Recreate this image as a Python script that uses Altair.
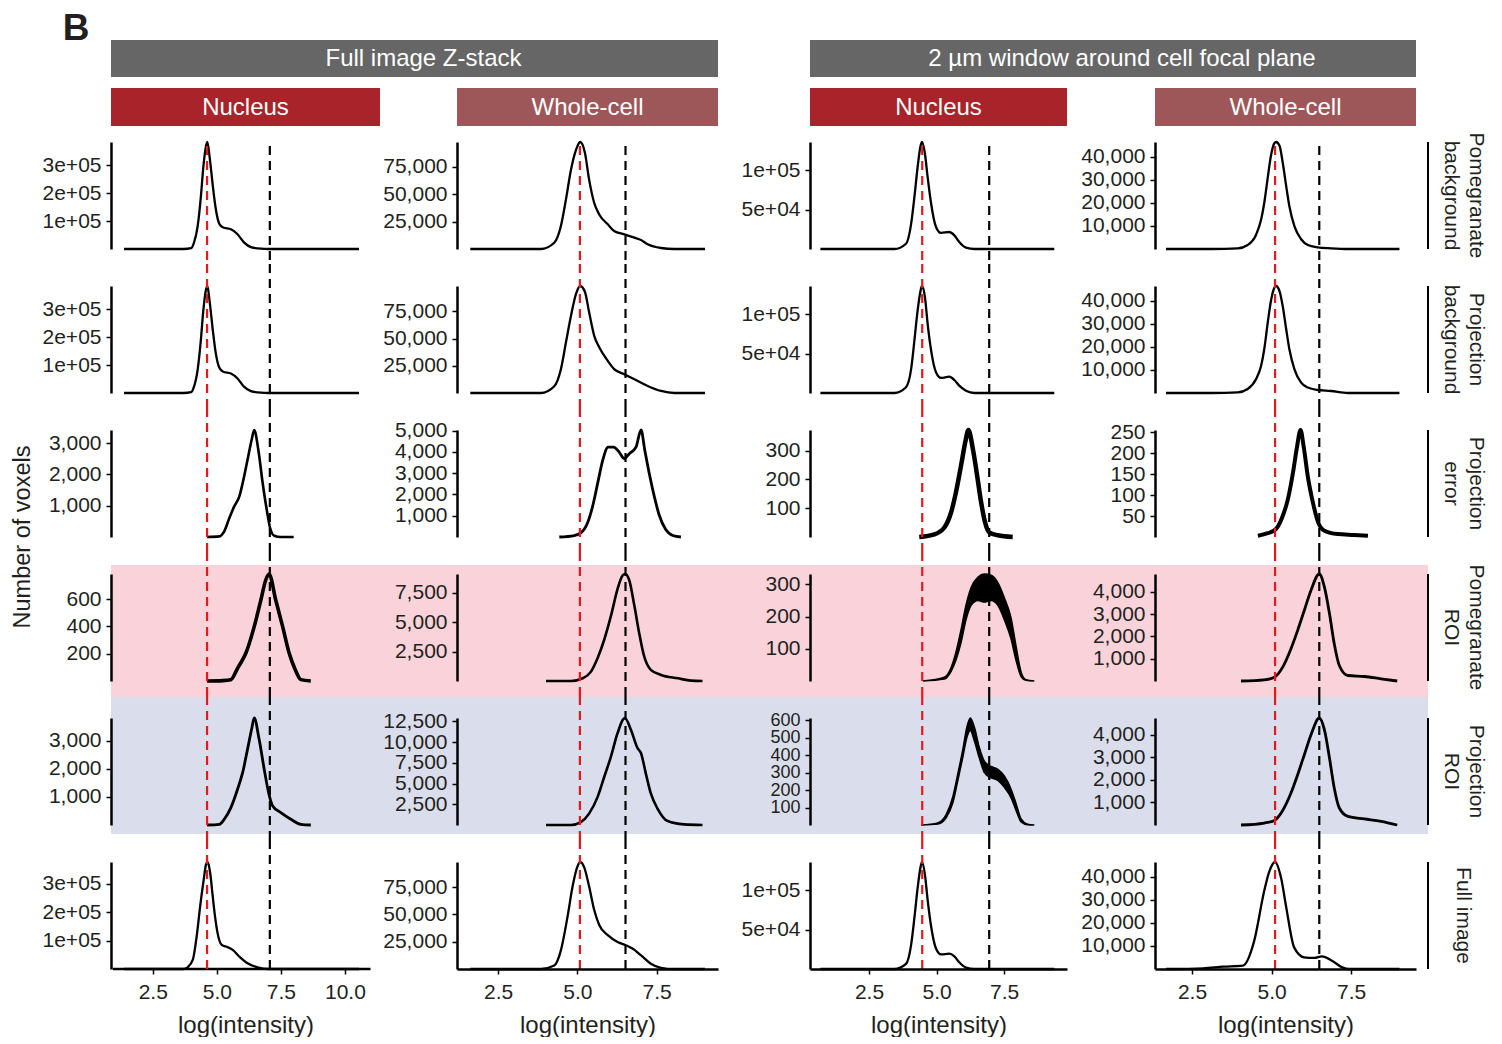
import altair as alt
import pandas as pd

FONT = "Liberation Sans"
INK = "#231F20"
RED = "#E31A1C"

# ---------------- text ----------------
panel_letter = "B"
group_titles = ["Full image Z-stack", "2 µm window around cell focal plane"]
strip_titles = ["Nucleus", "Whole-cell", "Nucleus", "Whole-cell"]
strip_colors = ["#A8232A", "#9D5759", "#A8232A", "#9D5759"]
header_color = "#666666"
row_labels = [["Pomegranate", "background"], ["Projection", "background"],
              ["Projection", "error"], ["Pomegranate", "ROI"],
              ["Projection", "ROI"], ["Full image"]]
row_band_colors = [None, None, None, "#F9D3D9", "#DADEEC", None]
y_title = "Number of voxels"
x_title = "log(intensity)"

# ---------------- axes ----------------
x_domains = [[0.87, 11.37], [1.20, 9.44], [0.315, 9.83], [1.336, 9.54]]
x_tick_values = [[2.5, 5.0, 7.5, 10.0], [2.5, 5.0, 7.5], [2.5, 5.0, 7.5], [2.5, 5.0, 7.5]]
# the first column's bottom axis line only covers the data range
capped_x_line = {0: [0.94, 11.0]}
red_threshold = [4.62, 5.08, 4.47, 5.11]
black_threshold = [7.07, 6.52, 6.95, 6.50]
y_tick_values = [
    [[1e5, 2e5, 3e5], [25000, 50000, 75000], [5e4, 1e5], [10000, 20000, 30000, 40000]],
    [[1e5, 2e5, 3e5], [25000, 50000, 75000], [5e4, 1e5], [10000, 20000, 30000, 40000]],
    [[1000, 2000, 3000], [1000, 2000, 3000, 4000, 5000], [100, 200, 300], [50, 100, 150, 200, 250]],
    [[200, 400, 600], [2500, 5000, 7500], [100, 200, 300], [1000, 2000, 3000, 4000]],
    [[1000, 2000, 3000], [2500, 5000, 7500, 10000, 12500], [100, 200, 300, 400, 500, 600], [1000, 2000, 3000, 4000]],
    [[1e5, 2e5, 3e5], [25000, 50000, 75000], [5e4, 1e5], [10000, 20000, 30000, 40000]],
]
sci_panels = {(0, 0), (0, 2), (1, 0), (1, 2), (5, 0), (5, 2)}
small_label_panels = {(4, 2): 18}

# ---------------- curves ----------------
# row: pomegranate background
pbg_fn_x = [1.38, 3.70, 4.00, 4.10, 4.25, 4.38, 4.47, 4.57, 4.63, 4.72, 4.84, 4.95, 5.10, 5.25, 5.55, 5.81, 6.07, 6.33, 6.73, 7.00, 10.55]
pbg_fn_y = [0, 0, 3000, 20000, 80000, 190000, 290000, 365000, 384000, 330000, 230000, 150000, 90000, 77000, 71000, 53000, 23000, 7000, 1000, 0, 0]
pbg_fc_x = [1.62, 3.85, 4.27, 4.48, 4.64, 4.80, 4.96, 5.09, 5.24, 5.37, 5.53, 5.69, 5.96, 6.16, 6.48, 6.80, 7.01, 7.22, 7.64, 8.06, 9.03]
pbg_fc_y = [0, 0, 5700, 20900, 45200, 72400, 90600, 97500, 87500, 63400, 42100, 31500, 22500, 16400, 13400, 10300, 8200, 4300, 900, 0, 0]
pbg_wn_x = [0.70, 3.44, 3.87, 4.06, 4.18, 4.30, 4.40, 4.46, 4.57, 4.67, 4.80, 4.98, 5.17, 5.47, 5.66, 5.84, 6.09, 6.40, 9.36]
pbg_wn_y = [0, 0, 6700, 32200, 66100, 104300, 129700, 136100, 121200, 91600, 57600, 28000, 20400, 21600, 17300, 8900, 1700, 0, 0]
pbg_wc_x = [1.68, 3.10, 3.94, 4.25, 4.51, 4.67, 4.77, 4.88, 4.98, 5.09, 5.14, 5.25, 5.35, 5.46, 5.56, 5.72, 5.93, 6.14, 6.45, 6.87, 7.40, 9.02]
pbg_wc_y = [0, 0, 300, 1750, 6100, 12700, 20000, 31000, 40500, 46000, 46500, 44900, 37600, 27300, 18600, 9800, 4250, 1750, 750, 300, 0, 0]

# row: projection background
pjbg_fn_x = [1.38, 3.70, 4.00, 4.10, 4.25, 4.38, 4.47, 4.57, 4.63, 4.72, 4.84, 4.95, 5.10, 5.25, 5.55, 5.81, 6.07, 6.33, 6.73, 7.00, 10.55]
pjbg_fn_y = [0, 0, 3000, 20000, 82000, 192000, 292000, 366000, 383000, 328000, 228000, 148000, 90000, 76000, 70000, 52000, 22000, 7000, 1000, 0, 0]
pjbg_fc_x = [1.62, 3.85, 4.27, 4.48, 4.64, 4.80, 4.96, 5.09, 5.24, 5.37, 5.53, 5.69, 5.96, 6.16, 6.48, 6.80, 7.22, 7.64, 8.06, 9.03]
pjbg_fc_y = [0, 0, 6200, 21900, 46600, 71300, 91400, 98400, 92900, 74400, 52800, 42000, 29600, 21900, 17300, 12700, 6500, 1900, 0, 0]
pjbg_wn_x = [0.70, 3.44, 3.87, 4.06, 4.18, 4.30, 4.40, 4.46, 4.57, 4.67, 4.80, 4.98, 5.17, 5.47, 5.66, 5.84, 6.09, 6.40, 9.36]
pjbg_wn_y = [0, 0, 7300, 30500, 66500, 104700, 128100, 135700, 121700, 87800, 53800, 26300, 19100, 20700, 16500, 9300, 2900, 0, 0]
pjbg_wc_x = [1.68, 3.10, 3.94, 4.25, 4.51, 4.67, 4.77, 4.88, 4.98, 5.09, 5.14, 5.25, 5.35, 5.46, 5.56, 5.72, 5.93, 6.14, 6.45, 6.87, 7.40, 9.02]
pjbg_wc_y = [0, 0, 300, 1750, 5950, 11700, 19000, 30600, 40000, 45800, 46500, 44300, 37800, 27700, 19000, 10300, 4500, 2350, 1300, 870, 0, 0]

# row: projection error
perr_fn_x = [4.62, 5.10, 5.29, 5.49, 5.68, 5.88, 6.01, 6.20, 6.36, 6.46, 6.62, 6.79, 6.96, 7.08, 7.24, 7.50, 8.00]
perr_fn_y = [0, 20, 180, 607, 978, 1297, 1725, 2470, 3109, 3420, 2790, 1725, 818, 288, 42, 0, 0]
perr_fc_x = [4.43, 4.90, 5.11, 5.32, 5.48, 5.64, 5.80, 5.97, 6.14, 6.32, 6.48, 6.64, 6.85, 7.01, 7.13, 7.27, 7.43, 7.58, 7.79, 8.01, 8.27]
perr_fc_y = [0, 70, 195, 660, 1432, 2520, 3604, 4222, 4222, 3990, 3683, 3915, 4222, 5030, 4070, 2985, 1897, 1046, 349, 70, 0]
perr_wn_x = [4.36, 4.92, 5.29, 5.54, 5.72, 5.91, 6.07, 6.18, 6.34, 6.50, 6.65, 6.80, 6.96, 7.27, 7.82]
perr_wn_y = [0, 9, 33, 86, 156, 250, 333, 372, 309, 215, 121, 50, 15, 6, 0]
perr_wc_x = [4.57, 4.88, 5.14, 5.35, 5.51, 5.67, 5.80, 5.91, 6.01, 6.14, 6.30, 6.45, 6.66, 7.08, 7.60, 8.03]
perr_wc_y = [3, 9, 19, 50, 89, 152, 215, 255, 215, 144, 82, 38, 15, 7, 5, 3]

# row: pomegranate ROI
proi_fn_x = [4.62, 5.24, 5.55, 5.82, 6.14, 6.46, 6.72, 6.91, 7.04, 7.30, 7.57, 7.82, 8.05, 8.28, 8.67]
proi_fn_y = [0, 3, 10, 97, 207, 399, 594, 741, 785, 594, 399, 207, 88, 10, 0]
proi_fc_x = [4.01, 4.80, 5.17, 5.43, 5.64, 5.85, 6.06, 6.27, 6.43, 6.51, 6.64, 6.80, 6.95, 7.11, 7.32, 7.64, 8.17, 8.59, 8.95]
proi_fc_y = [0, 0, 230, 800, 1956, 3534, 5540, 7844, 8990, 9110, 8560, 6400, 4110, 2095, 948, 517, 230, 30, 0]
proi_wn_x = [4.49, 5.29, 5.54, 5.72, 5.91, 6.09, 6.28, 6.53, 6.77, 7.02, 7.27, 7.51, 7.76, 7.94, 8.13, 8.31, 8.62]
proi_wn_hi = [0, 12, 42, 90, 160, 235, 290, 322, 332, 328, 305, 258, 195, 110, 28, 4, 0]
proi_wn_lo = [0, 6, 30, 65, 120, 190, 235, 250, 245, 250, 235, 190, 130, 65, 14, 2, 0]
proi_wc_x = [4.04, 4.77, 5.09, 5.35, 5.61, 5.82, 6.03, 6.24, 6.50, 6.66, 6.82, 6.97, 7.13, 7.40, 7.92, 8.44, 8.95]
proi_wc_y = [0, 54, 171, 621, 1449, 2272, 3172, 4072, 4800, 4221, 3024, 1674, 697, 247, 202, 99, 0]

# row: projection ROI
pjroi_fn_x = [4.62, 5.10, 5.29, 5.55, 5.81, 6.01, 6.20, 6.36, 6.46, 6.65, 6.85, 7.02, 7.18, 7.50, 7.89, 8.28, 8.67]
pjroi_fn_y = [0, 25, 204, 621, 1275, 1871, 2702, 3416, 3810, 3059, 1988, 1157, 678, 443, 204, 25, 0]
pjroi_fc_x = [4.01, 4.80, 5.11, 5.37, 5.64, 5.85, 6.06, 6.27, 6.50, 6.69, 6.90, 7.01, 7.16, 7.32, 7.53, 7.85, 8.37, 8.95]
pjroi_fc_y = [0, 0, 350, 1370, 3390, 5815, 8245, 11085, 12900, 11485, 9260, 8655, 6230, 3800, 1980, 475, 75, 0]
pjroi_wn_x = [4.43, 5.04, 5.35, 5.60, 5.79, 5.97, 6.13, 6.25, 6.40, 6.59, 6.77, 7.02, 7.27, 7.51, 7.76, 7.94, 8.13, 8.37, 8.62]
pjroi_wn_hi = [0, 12, 58, 160, 295, 430, 565, 612, 560, 440, 365, 335, 318, 280, 205, 125, 35, 5, 0]
pjroi_wn_lo = [0, 5, 40, 125, 255, 385, 505, 540, 480, 380, 300, 270, 255, 215, 155, 85, 18, 2, 0]
pjroi_wc_x = [4.04, 4.77, 5.09, 5.35, 5.61, 5.82, 6.03, 6.24, 6.50, 6.66, 6.82, 6.97, 7.13, 7.40, 7.92, 8.44, 8.95]
pjroi_wc_y = [0, 88, 204, 646, 1416, 2226, 3111, 3996, 4735, 4217, 2965, 1637, 752, 381, 266, 159, 0]

# row: full image
full_fn_x = [1.38, 3.70, 3.86, 4.06, 4.23, 4.35, 4.49, 4.58, 4.64, 4.74, 4.84, 4.93, 5.03, 5.19, 5.42, 5.62, 5.88, 6.20, 6.59, 6.98, 10.55]
full_fn_y = [0, 0, 6000, 31800, 126000, 220000, 314500, 367500, 375700, 338000, 255500, 184800, 126000, 84800, 76700, 67100, 43500, 20100, 6000, 0, 0]
full_fc_x = [1.62, 3.85, 4.27, 4.48, 4.69, 4.85, 4.99, 5.09, 5.22, 5.37, 5.53, 5.69, 5.96, 6.27, 6.53, 6.74, 7.01, 7.32, 7.64, 8.06, 9.03]
full_fc_y = [0, 0, 3200, 17100, 48000, 75700, 92800, 98000, 92800, 75700, 54200, 40300, 31000, 24800, 21800, 18700, 12500, 4800, 1100, 0, 0]
full_wn_x = [0.70, 3.44, 3.87, 4.06, 4.18, 4.30, 4.40, 4.46, 4.57, 4.67, 4.80, 4.98, 5.17, 5.47, 5.66, 5.84, 6.09, 6.40, 9.36]
full_wn_y = [0, 0, 6500, 31000, 65000, 103000, 128000, 136000, 120000, 88000, 54000, 26000, 18500, 19500, 16000, 8500, 1800, 0, 0]
full_wc_x = [1.68, 2.85, 3.48, 4.10, 4.45, 4.77, 4.92, 5.11, 5.30, 5.46, 5.71, 6.02, 6.34, 6.58, 6.90, 7.22, 7.44, 9.02]
full_wc_y = [0, 300, 1000, 1450, 12000, 34000, 42000, 46500, 39500, 26900, 9400, 5100, 4800, 5500, 3600, 700, 0, 0]

curves = [
    [(pbg_fn_x, pbg_fn_y), (pbg_fc_x, pbg_fc_y), (pbg_wn_x, pbg_wn_y), (pbg_wc_x, pbg_wc_y)],
    [(pjbg_fn_x, pjbg_fn_y), (pjbg_fc_x, pjbg_fc_y), (pjbg_wn_x, pjbg_wn_y), (pjbg_wc_x, pjbg_wc_y)],
    [(perr_fn_x, perr_fn_y), (perr_fc_x, perr_fc_y), (perr_wn_x, perr_wn_y), (perr_wc_x, perr_wc_y)],
    [(proi_fn_x, proi_fn_y), (proi_fc_x, proi_fc_y), (proi_wn_x, proi_wn_lo, proi_wn_hi), (proi_wc_x, proi_wc_y)],
    [(pjroi_fn_x, pjroi_fn_y), (pjroi_fc_x, pjroi_fc_y), (pjroi_wn_x, pjroi_wn_lo, pjroi_wn_hi), (pjroi_wc_x, pjroi_wc_y)],
    [(full_fn_x, full_fn_y), (full_fc_x, full_fc_y), (full_wn_x, full_wn_y), (full_wc_x, full_wc_y)],
]
line_widths = [
    [2.3, 2.3, 2.3, 2.3],
    [2.3, 2.3, 2.3, 2.3],
    [2.6, 2.8, 4.5, 4.0],
    [3.6, 2.6, 1.5, 2.8],
    [2.8, 2.6, 1.5, 2.8],
    [2.3, 2.3, 2.3, 2.3],
]

# ---------------- layout ----------------
PANEL_W = [269, 261, 257, 261]
GAP_W = [77, 92, 88, 12]
PANEL_H = 107
ROW_GAP = 37
LABEL_W = 60
band_offsets = {3: (-9, 16), 4: (-21, 9)}

ONE = pd.DataFrame({"k": [0]})
SCI = "replace(format(datum.value, '.0e'), 'e+', 'e+0')"


def text_layer(txt, x, y, size, color, weight="normal", angle=0, baseline="middle"):
    return alt.Chart(ONE).mark_text(
        font=FONT, fontSize=size, color=color, fontWeight=weight, angle=angle,
        align="center", baseline=baseline, text=txt,
    ).encode(x=alt.value(x), y=alt.value(y))


def rect_layer(x0, x1, y0, y1, color):
    return alt.Chart(ONE).mark_rect(color=color).encode(
        x=alt.value(x0), x2=alt.value(x1), y=alt.value(y0), y2=alt.value(y1))


def data_panel(r, c):
    W, H = PANEL_W[c], PANEL_H
    xscale = alt.Scale(domain=x_domains[c], nice=False, zero=False)
    yscale = alt.Scale(zero=True, nice=False)
    if r == 5:
        xaxis = alt.Axis(values=x_tick_values[c], format=".1f", title=x_title,
                         labelPadding=7, titlePadding=11, zindex=1,
                         domain=(c not in capped_x_line))
    else:
        xaxis = None
    ykw = dict(values=y_tick_values[r][c], title=None, zindex=1)
    if (r, c) in small_label_panels:
        ykw["labelFontSize"] = small_label_panels[(r, c)]
    if (r, c) in sci_panels:
        yaxis = alt.Axis(labelExpr=SCI, **ykw)
    else:
        yaxis = alt.Axis(format=",.0f", **ykw)

    layers = []
    if row_band_colors[r]:
        t, b = band_offsets[r]
        layers.append(rect_layer(0, W + GAP_W[c], t, H + b, row_band_colors[r]))

    spec = curves[r][c]
    if len(spec) == 3:
        df = pd.DataFrame({"x": spec[0], "lo": spec[1], "hi": spec[2]})
        layers.append(alt.Chart(df).mark_area(
            color="black", stroke="black", strokeWidth=line_widths[r][c],
            interpolate="monotone").encode(
            x=alt.X("x:Q", scale=xscale, axis=xaxis),
            y=alt.Y("hi:Q", scale=yscale, axis=yaxis),
            y2="lo:Q"))
    else:
        df = pd.DataFrame({"x": spec[0], "y": spec[1]})
        layers.append(alt.Chart(df).mark_line(
            color="black", strokeWidth=line_widths[r][c], interpolate="monotone").encode(
            x=alt.X("x:Q", scale=xscale, axis=xaxis),
            y=alt.Y("y:Q", scale=yscale, axis=yaxis)))

    if r == 5 and c in capped_x_line:
        lo, hi = capped_x_line[c]
        layers.append(alt.Chart(pd.DataFrame({"a": [lo], "b": [hi]})).mark_rule(
            color="black", strokeWidth=2.5).encode(
            x=alt.X("a:Q", scale=xscale, axis=xaxis), x2="b:Q", y=alt.value(H)))

    y0 = 4 if r == 0 else -22
    y1 = H if r == 5 else H + 16
    for val, col in ((red_threshold[c], RED), (black_threshold[c], "black")):
        layers.append(alt.Chart(pd.DataFrame({"v": [val]})).mark_rule(
            color=col, strokeWidth=2.2, strokeDash=[9, 6]).encode(
            x=alt.X("v:Q", scale=xscale, axis=xaxis),
            y=alt.value(y0), y2=alt.value(y1)))

    if r == 0:
        if c in (0, 2):
            gw = W + GAP_W[c] + PANEL_W[c + 1]
            layers.append(rect_layer(0, gw, -102, -65, header_color))
            layers.append(text_layer(group_titles[c // 2], gw / 2 + 9, -83, 24, "white"))
        layers.append(rect_layer(0, W, -54, -16, strip_colors[c]))
        layers.append(text_layer(strip_titles[c], W / 2, -34, 24, "white"))
        if c == 0:
            layers.append(text_layer(panel_letter, -35, -102, 37, "#231F20", weight="bold",
                                     baseline="alphabetic"))
    if r == 2 and c == 0:
        layers.append(text_layer(y_title, -88, H, 23.5, INK, angle=270))

    return alt.layer(*layers).properties(width=W, height=H)


def spacer(w):
    return alt.Chart(ONE).mark_point(opacity=0).encode(
        x=alt.value(0), y=alt.value(0)).properties(width=w, height=PANEL_H)


def label_panel(r):
    H = PANEL_H
    lines = row_labels[r]
    # first line sits at the anchor, further lines step to the left
    anchor_x = 35 + 12.5 * (len(lines) - 1)
    rule = alt.Chart(ONE).mark_rule(color="black", strokeWidth=2).encode(
        x=alt.value(0), y=alt.value(0), y2=alt.value(H))
    txt = alt.Chart(ONE).mark_text(
        font=FONT, fontSize=21, color=INK, angle=90, align="center",
        baseline="middle", lineHeight=25, text=lines).encode(
        x=alt.value(anchor_x), y=alt.value(H / 2))
    return alt.layer(rule, txt).properties(width=LABEL_W, height=H)


items = []
for r in range(6):
    for c in range(4):
        items.append(data_panel(r, c))
        items.append(spacer(GAP_W[c]))
    items.append(label_panel(r))

chart = alt.concat(
    *items, columns=9, spacing={"row": ROW_GAP, "column": 0},
    bounds="flush", align="each",
).properties(
    padding={"left": 3, "top": 2, "right": 2, "bottom": 0}
).configure_view(
    strokeWidth=0
).configure_axis(
    labelFont=FONT, labelFontSize=21, labelColor=INK,
    titleFont=FONT, titleFontSize=24, titleFontWeight="normal", titleColor=INK,
    domainColor="black", domainWidth=2.5, tickColor="black", tickWidth=1.5,
    tickSize=5, labelPadding=5, grid=False, labelFlush=False, labelOverlap=False,
)

chart.save("out.html", embed_options={"renderer": "svg", "actions": False})
